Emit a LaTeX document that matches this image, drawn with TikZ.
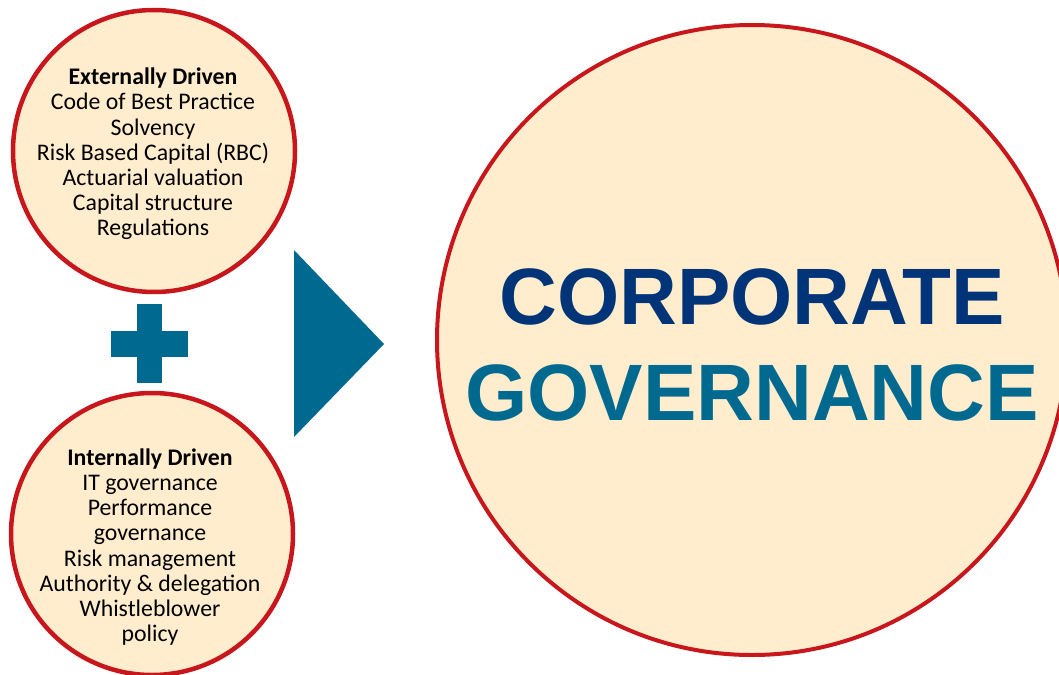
\documentclass[tikz,border=0pt]{standalone}
\usepackage{fontspec}
\setmainfont{Carlito}
\newfontfamily\headfont{Liberation Sans}
\definecolor{cgred}{HTML}{C8161D}
\definecolor{cgfill}{HTML}{FFEDCD}
\definecolor{cgteal}{HTML}{006990}
\definecolor{cgnavy}{HTML}{003478}
\tikzset{
  smallcirc/.style={circle, draw=cgred, fill=cgfill, line width=4.5pt, minimum size=282pt, inner sep=0pt},
  bigcirc/.style={circle, draw=cgred, fill=cgfill, line width=4pt, minimum size=630pt, inner sep=0pt},
  listtext/.style={align=center, inner sep=0pt, font=\fontsize{23.8}{25.2}\selectfont, text=black},
  bigtext/.style={inner sep=0pt, font=\headfont\bfseries\fontsize{80}{90}\selectfont},
  bluefill/.style={fill=cgteal, draw=none}
}
\begin{document}
\begin{tikzpicture}[x=1pt,y=-1pt]
\useasboundingbox (0,0) rectangle (1059,674);
% circles
\node[smallcirc] (ext) at (154,151) {};
\node[smallcirc] (int) at (152,534) {};
\node[bigcirc] (cg) at (752,340) {};
% texts
\node[listtext] (exttxt) at (153,154) {\textbf{Externally Driven}\\Code of Best Practice\\Solvency\\Risk Based Capital (RBC)\\Actuarial valuation\\Capital structure\\Regulations};
\node[listtext] (inttxt) at (150,547) {\textbf{Internally Driven}\\IT governance\\Performance\\governance\\Risk management\\Authority \& delegation\\Whistleblower\\policy};
\node[bigtext, text=cgnavy, anchor=base] (corp) at (752,324) {CORPORATE};
\node[bigtext, text=cgteal, anchor=base] (gov) at (752,420) {GOVERNANCE};
% plus sign
\fill[bluefill] (137,304) rectangle (162,383);
\fill[bluefill] (111,331) rectangle (188,357);
% triangle
\fill[bluefill] (294,250) -- (384,344) -- (294,437) -- cycle;
\end{tikzpicture}
\end{document}
